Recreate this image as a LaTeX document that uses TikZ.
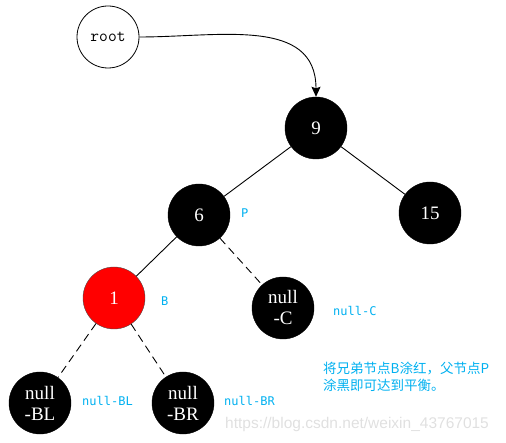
\documentclass[tikz,border=0pt]{standalone}
\usepackage{fontspec}
\setmainfont{Liberation Serif}
\newfontfamily\cjk{Noto Sans CJK SC}
\newfontfamily\lblfont{DejaVu Sans Mono}
\newfontfamily\wmfont{Liberation Sans}
\usetikzlibrary{arrows.meta}
\definecolor{lblblue}{RGB}{0,176,240}
\definecolor{nodered}{RGB}{255,0,0}
\begin{document}
\begin{tikzpicture}[x=1pt,y=-1pt,
  blk/.style={circle,draw=black,fill=black,text=white,minimum size=62pt,inner sep=0pt,font=\fontsize{19}{21}\selectfont,align=center},
  rednode/.style={circle,draw=black!70,fill=nodered,text=white,minimum size=62pt,inner sep=0pt,font=\fontsize{19}{21}\selectfont},
  rootnode/.style={circle,draw=black,line width=0.8pt,fill=white,minimum size=62pt,inner sep=0pt,font=\ttfamily\fontsize{17}{17}\selectfont},
  edge/.style={draw=black,line width=0.9pt},
  dedge/.style={draw=black,line width=0.9pt,dash pattern=on 8pt off 5pt},
  lbl/.style={text=lblblue,font=\lblfont\fontsize{12}{12}\selectfont,inner sep=0pt},
]
\useasboundingbox (0,0) rectangle (506,443);
\node[rootnode] (root) at (108,37) {root};
\node[blk] (n9) at (316,128) {9};
\node[blk] (n6) at (199,215) {6};
\node[blk] (n15) at (430,213) {15};
\node[rednode] (n1) at (114,298) {1};
\node[blk] (nc) at (283,308) {null\\-C};
\node[blk] (nbl) at (40,403) {null\\-BL};
\node[blk] (nbr) at (183,403) {null\\-BR};

\draw[edge,-{Stealth[length=10pt,width=9pt,inset=1.5pt]}] (root.east) to[out=0,in=90,looseness=1.1] (n9.north);
\draw[edge] (n9) -- (n6);
\draw[edge] (n9) -- (n15);
\draw[edge] (n6) -- (n1);
\draw[dedge] (n6) -- (nc);
\draw[dedge] (n1) -- (nbl);
\draw[dedge] (n1) -- (nbr);

\node[lbl,anchor=west] (lp) at (241,213) {P};
\node[lbl,anchor=west] (lb) at (161,301) {B};
\node[lbl,anchor=west] (lc) at (333,311) {null-C};
\node[lbl,anchor=west] (lbl1) at (82,401) {null-BL};
\node[lbl,anchor=west] (lbr) at (224,401) {null-BR};
\node[anchor=north west,text=lblblue,font=\cjk\fontsize{13.5}{17}\selectfont,align=left,inner sep=0pt] (note) at (323,362) {将兄弟节点B涂红，父节点P\\涂黑即可达到平衡。};
\node[anchor=west,text=black!12,font=\wmfont\fontsize{15.5}{16}\selectfont,inner sep=0pt] (wm) at (225,424) {https://blog.csdn.net/weixin\_43767015};
\end{tikzpicture}
\end{document}
